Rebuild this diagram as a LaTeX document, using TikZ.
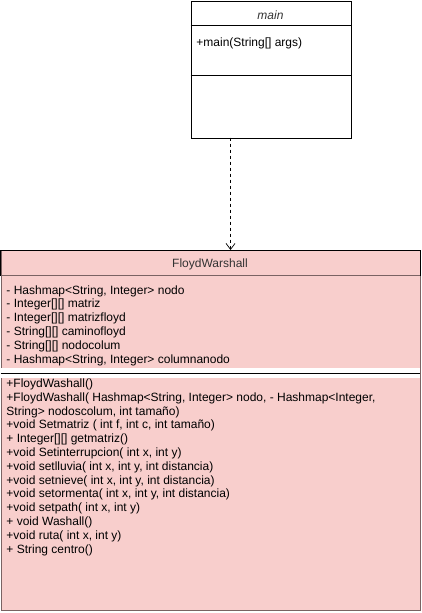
\documentclass[tikz,border=0pt]{standalone}
\usepackage{fontspec}
\setmainfont{Liberation Sans}
\usetikzlibrary{positioning}
\usetikzlibrary{arrows.meta}
\usepackage{xcolor}

\definecolor{umlpink}{HTML}{F8CECC}
\definecolor{umledge}{HTML}{7A6363}
\definecolor{umltext}{HTML}{333333}

\tikzset{
member/.style={anchor=base west, inner sep=0pt, font=\fontsize{12}{14}\selectfont},
classtitle/.style={anchor=base, inner sep=0pt, text=umltext, font=\fontsize{12}{14}\selectfont},
classbox/.style={draw, inner sep=0pt, anchor=north west}
}

\begin{document}
\begin{tikzpicture}[x=1pt,y=-1pt,line width=0.9pt]

\useasboundingbox (0,0) rectangle (421,613);

\begin{scope}{
% main class
\node[classbox, fill=white, minimum width=160pt, minimum height=137pt] (main) at (190.5,0.5) {};

\draw (190.5,25.5)--++(160,0);
\draw (190.5,75.5)--++(160,0);

% FloydWarshall class
\node[classbox, draw=umledge, fill=umlpink, minimum width=419.5pt, minimum height=359.5pt] (floyd) at (0.5,250) {};

\fill[white] (1,368) rectangle (419.5,377.5);
\draw[umledge] (0.5,275.5)--(420,275.5);
\draw[black] (0.5,373)--(420,373);
\draw[black] (0.5,275.5)|-(420,250)--(420,275.5);

% dependency
\coordinate (mainfoot) at (230.5,137.5);
\draw[line width=0.7pt, dash pattern=on 3pt off 3pt, -{Straight Barb[length=6pt,width=9pt]}] (mainfoot)--(mainfoot |- floyd.north);

% nodes
{
\node[classtitle, font=\itshape\fontsize{12}{14}\selectfont] (maintitle) at (270.5,19.5) {main};
\node[member] (mainop) at (196,46) {+main(String[] args)};

\node[classtitle] (floydtitle) at (210,267) {FloydWarshall};

\foreach \txt [count=\i from 0] in {
{- Hashmap<String, Integer> nodo},
{- Integer[][] matriz},
{- Integer[][] matrizfloyd},
{- String[][] caminofloyd},
{- String[][] nodocolum},
{- Hashmap<String, Integer> columnanodo}}
\node[member] (attr\i) at (6,294+13.8*\i) {\txt};

\foreach \txt [count=\i from 0] in {
{+FloydWashall()},
{+FloydWashall( Hashmap<String, Integer> nodo, - Hashmap<Integer,},
{String> nodoscolum, int tamaño)},
{+void Setmatriz ( int f, int c, int tamaño)},
{+ Integer[][] getmatriz()},
{+void Setinterrupcion( int x, int y)},
{+void setlluvia( int x, int y, int distancia)},
{+void setnieve( int x, int y, int distancia)},
{+void setormenta( int x, int y, int distancia)},
{+void setpath( int x, int y)},
{+ void Washall()},
{+void ruta( int x, int y)},
{+ String centro()}}
\node[member] (op\i) at (6,387.5+13.8*\i) {\txt};
}

} \end{scope}

\end{tikzpicture}
\end{document}
